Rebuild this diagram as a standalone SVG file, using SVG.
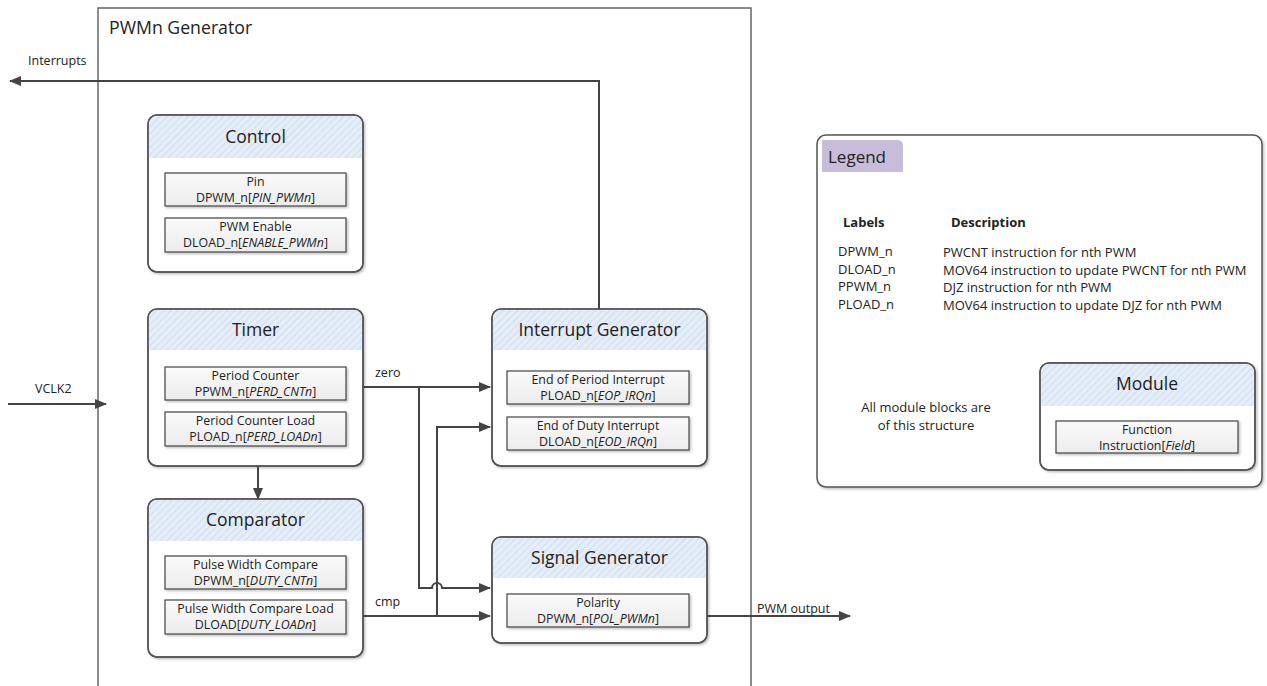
<svg xmlns="http://www.w3.org/2000/svg" width="1267" height="686" viewBox="0 0 1267 686">
<style>
text{font-family:"Open Sans","Noto Sans","DejaVu Sans",sans-serif;fill:#222}
.box{fill:#fff;stroke:#555;stroke-width:1.5}
.hdr{fill:url(#hatch);stroke:none}
.ttl{font-size:17.5px;text-anchor:middle}
.inner{fill:url(#ig);stroke:#444;stroke-width:1.2}
.it{font-size:12.4px;text-anchor:middle}
.conn{fill:none;stroke:#444;stroke-width:2}
.lbl{font-size:12.5px}
.leg{font-size:13px}
.legb{font-size:13px;font-weight:bold}
</style>
<defs>
<pattern id="hatch" patternUnits="userSpaceOnUse" width="5" height="5" patternTransform="rotate(45)">
<rect width="5" height="5" fill="#e5edf8"/>
<line x1="0" y1="0" x2="0" y2="5" stroke="#cddaec" stroke-width="1.6"/>
</pattern>
<linearGradient id="ig" x1="0" y1="0" x2="0" y2="1">
<stop offset="0" stop-color="#fafafa"/>
<stop offset="1" stop-color="#ececec"/>
</linearGradient>
<filter id="sh" x="-5%" y="-5%" width="115%" height="120%">
<feDropShadow dx="1.5" dy="1.5" stdDeviation="1.2" flood-color="#000" flood-opacity="0.25"/>
</filter>
<marker id="ah" markerWidth="12" markerHeight="10" refX="11" refY="5" orient="auto" markerUnits="userSpaceOnUse">
<path d="M0,0 L12,5 L0,10 Z" fill="#444"/>
</marker>
</defs>
<rect width="1267" height="686" fill="#fff"/>

<g id="pwmn-generator">
<path d="M98,686 L98,8 L751,8 L751,686" fill="none" stroke="#666" stroke-width="1.5"/>
<text x="109" y="34" style="font-size:17.7px">PWMn Generator</text>
</g>

<g id="control">
<rect class="box" x="148" y="115" width="215" height="157" rx="9" filter="url(#sh)"/>
<path class="hdr" d="M148.8,158 L148.8,124 Q148.8,115.8 157,115.8 L354,115.8 Q362.2,115.8 362.2,124 L362.2,158 Z"/>
<rect x="148" y="115" width="215" height="157" rx="9" fill="none" stroke="#555" stroke-width="1.5"/>
<text class="ttl" x="255.5" y="143">Control</text>
<rect class="inner" x="165" y="173" width="181" height="33" filter="url(#sh)"/>
<text class="it" x="255.5" y="186">Pin</text>
<text class="it" x="255.5" y="202">DPWM_n[<tspan font-style="italic">PIN_PWMn</tspan>]</text>
<rect class="inner" x="165" y="218" width="181" height="34" filter="url(#sh)"/>
<text class="it" x="255.5" y="231">PWM Enable</text>
<text class="it" x="255.5" y="247">DLOAD_n[<tspan font-style="italic">ENABLE_PWMn</tspan>]</text>
</g>

<g id="timer">
<rect class="box" x="148" y="309" width="215" height="157" rx="9" filter="url(#sh)"/>
<path class="hdr" d="M148.8,350 L148.8,318 Q148.8,309.8 157,309.8 L354,309.8 Q362.2,309.8 362.2,318 L362.2,350 Z"/>
<rect x="148" y="309" width="215" height="157" rx="9" fill="none" stroke="#555" stroke-width="1.5"/>
<text class="ttl" x="255.5" y="336">Timer</text>
<rect class="inner" x="165" y="367" width="181" height="33" filter="url(#sh)"/>
<text class="it" x="255.5" y="380">Period Counter</text>
<text class="it" x="255.5" y="396">PPWM_n[<tspan font-style="italic">PERD_CNTn</tspan>]</text>
<rect class="inner" x="165" y="412" width="181" height="34" filter="url(#sh)"/>
<text class="it" x="255.5" y="425">Period Counter Load</text>
<text class="it" x="255.5" y="441">PLOAD_n[<tspan font-style="italic">PERD_LOADn</tspan>]</text>
</g>

<g id="comparator">
<rect class="box" x="148" y="499" width="215" height="158" rx="9" filter="url(#sh)"/>
<path class="hdr" d="M148.8,541 L148.8,508 Q148.8,499.8 157,499.8 L354,499.8 Q362.2,499.8 362.2,508 L362.2,541 Z"/>
<rect x="148" y="499" width="215" height="158" rx="9" fill="none" stroke="#555" stroke-width="1.5"/>
<text class="ttl" x="255.5" y="526">Comparator</text>
<rect class="inner" x="165" y="556" width="181" height="33" filter="url(#sh)"/>
<text class="it" x="255.5" y="569">Pulse Width Compare</text>
<text class="it" x="255.5" y="585">DPWM_n[<tspan font-style="italic">DUTY_CNTn</tspan>]</text>
<rect class="inner" x="165" y="600" width="181" height="34" filter="url(#sh)"/>
<text class="it" x="255.5" y="613">Pulse Width Compare Load</text>
<text class="it" x="255.5" y="629">DLOAD[<tspan font-style="italic">DUTY_LOADn</tspan>]</text>
</g>

<g id="interrupt-generator">
<rect class="box" x="492" y="309" width="215" height="157" rx="9" filter="url(#sh)"/>
<path class="hdr" d="M492.8,350 L492.8,318 Q492.8,309.8 501,309.8 L698,309.8 Q706.2,309.8 706.2,318 L706.2,350 Z"/>
<rect x="492" y="309" width="215" height="157" rx="9" fill="none" stroke="#555" stroke-width="1.5"/>
<text class="ttl" x="599.5" y="336">Interrupt Generator</text>
<rect class="inner" x="507" y="371" width="182" height="33" filter="url(#sh)"/>
<text class="it" x="598" y="384">End of Period Interrupt</text>
<text class="it" x="598" y="400">PLOAD_n[<tspan font-style="italic">EOP_IRQn</tspan>]</text>
<rect class="inner" x="507" y="417" width="182" height="33" filter="url(#sh)"/>
<text class="it" x="598" y="430">End of Duty Interrupt</text>
<text class="it" x="598" y="446">DLOAD_n[<tspan font-style="italic">EOD_IRQn</tspan>]</text>
</g>

<g id="signal-generator">
<rect class="box" x="492" y="537" width="215" height="106" rx="9" filter="url(#sh)"/>
<path class="hdr" d="M492.8,578 L492.8,546 Q492.8,537.8 501,537.8 L698,537.8 Q706.2,537.8 706.2,546 L706.2,578 Z"/>
<rect x="492" y="537" width="215" height="106" rx="9" fill="none" stroke="#555" stroke-width="1.5"/>
<text class="ttl" x="599.5" y="564">Signal Generator</text>
<rect class="inner" x="507" y="594" width="182" height="33" filter="url(#sh)"/>
<text class="it" x="598" y="607">Polarity</text>
<text class="it" x="598" y="623">DPWM_n[<tspan font-style="italic">POL_PWMn</tspan>]</text>
</g>

<g id="connectors">
<path class="conn" d="M599,309 L599,81 L10,81" marker-end="url(#ah)"/>
<path class="conn" d="M8,404 L106,404" marker-end="url(#ah)"/>
<path class="conn" d="M258,466 L258,499" marker-end="url(#ah)"/>
<path class="conn" d="M363,387 L490,387" marker-end="url(#ah)"/>
<path class="conn" d="M419,387 L419,588 L432,588 A5,5 0 0 1 442,588 L490,588" marker-end="url(#ah)"/>
<path class="conn" d="M363,616 L490,616" marker-end="url(#ah)"/>
<path class="conn" d="M437,616 L437,427 L490,427" marker-end="url(#ah)"/>
<path class="conn" d="M707,616 L850,616" marker-end="url(#ah)"/>
</g>

<g id="connector-labels">
<text class="lbl" x="28" y="65">Interrupts</text>
<text class="lbl" x="35" y="393">VCLK2</text>
<text class="lbl" x="375" y="377">zero</text>
<text class="lbl" x="375" y="606">cmp</text>
<text class="lbl" x="757" y="613">PWM output</text>
</g>

<g id="legend">
<rect x="817" y="135" width="445" height="352" rx="9" fill="#fff" stroke="#555" stroke-width="1.5" filter="url(#sh)"/>
<path d="M822,140 L897,140 Q903,140 903,146 L903,172 L822,172 Z" fill="#c7bddb"/>
<text x="828" y="163" style="font-size:17px">Legend</text>
<text class="legb" x="843" y="227">Labels</text>
<text class="legb" x="951" y="227">Description</text>
<text class="leg" x="838" y="256">DPWM_n</text>
<text class="leg" x="838" y="274">DLOAD_n</text>
<text class="leg" x="838" y="291">PPWM_n</text>
<text class="leg" x="838" y="309">PLOAD_n</text>
<text class="leg" x="943" y="257">PWCNT instruction for nth PWM</text>
<text class="leg" x="943" y="275">MOV64 instruction to update PWCNT for nth PWM</text>
<text class="leg" x="943" y="292">DJZ instruction for nth PWM</text>
<text class="leg" x="943" y="310">MOV64 instruction to update DJZ for nth PWM</text>
<text class="leg" x="926" y="412" text-anchor="middle">All module blocks are</text>
<text class="leg" x="926" y="430" text-anchor="middle">of this structure</text>
</g>

<g id="module-example">
<rect class="box" x="1040" y="363" width="215" height="107" rx="9" filter="url(#sh)"/>
<path class="hdr" d="M1040.8,406 L1040.8,372 Q1040.8,363.8 1049,363.8 L1246,363.8 Q1254.2,363.8 1254.2,372 L1254.2,406 Z"/>
<rect x="1040" y="363" width="215" height="107" rx="9" fill="none" stroke="#555" stroke-width="1.5"/>
<text class="ttl" x="1147" y="390">Module</text>
<rect class="inner" x="1056" y="421" width="182" height="32" filter="url(#sh)"/>
<text class="it" x="1147" y="434">Function</text>
<text class="it" x="1147" y="450">Instruction[<tspan font-style="italic">Field</tspan>]</text>
</g>
</svg>
